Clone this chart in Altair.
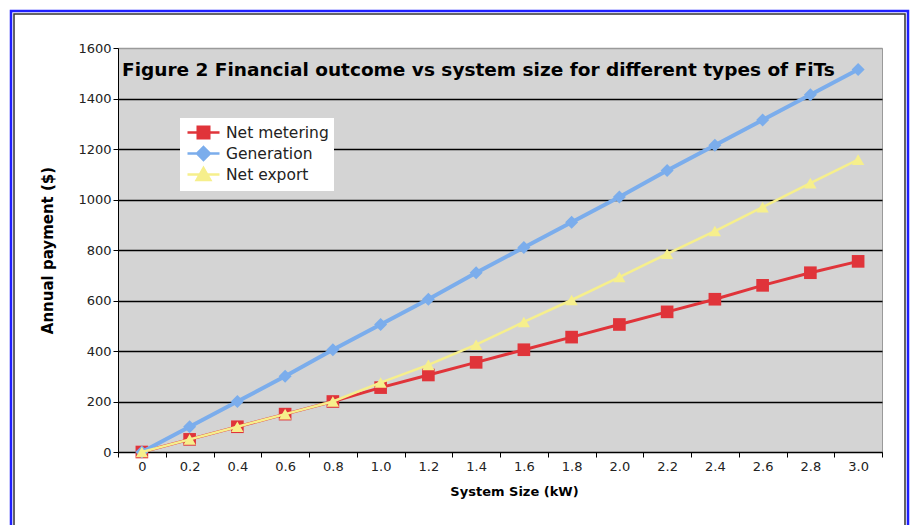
import altair as alt
import pandas as pd

sizes = ["0", "0.2", "0.4", "0.6", "0.8", "1.0", "1.2", "1.4", "1.6", "1.8",
         "2.0", "2.2", "2.4", "2.6", "2.8", "3.0"]
series_names = ["Net metering", "Generation", "Net export"]
net_metering = [0, 50, 100, 150, 200, 255, 305, 355, 405, 455, 505, 555, 605, 660, 710, 755]
generation = [0, 100, 200, 300, 405, 505, 605, 710, 810, 910, 1010, 1115, 1215, 1315, 1415, 1515]
net_export = [0, 50, 100, 150, 200, 275, 345, 425, 515, 602, 693, 785, 875, 970, 1065, 1158]
y_ticks = [0, 200, 400, 600, 800, 1000, 1200, 1400, 1600]
title_text = "Figure 2 Financial outcome vs system size for different types of FiTs"

colors = ["#e0343a", "#7badec", "#f6ef8c"]
shapes = ["square", "diamond", "triangle-up"]
widths = [3, 4, 2.5]
marker_sizes = [160, 170, 150]
legend_paths = [
    "M-2,0H2M-0.72,-0.72H0.72V0.72H-0.72Z",
    "M-2,0H2M0,-0.8L0.8,0L0,0.8L-0.8,0Z",
    "M-2,0H2M0,-0.8L0.85,0.7H-0.85Z",
]

rows = []
for name, vals in zip(series_names, [net_metering, generation, net_export]):
    for s, v in zip(sizes, vals):
        rows.append({"size": s, "series": name, "value": v})
df = pd.DataFrame(rows)

x_enc = alt.X(
    "size:N", sort=sizes, bandPosition=0.5,
    scale=alt.Scale(type="band", domain=sizes, paddingInner=0, paddingOuter=0),
    axis=alt.Axis(title="System Size (kW)", labelAngle=0, tickBand="extent",
                  domainColor="black", tickColor="black", tickSize=5,
                  labelPadding=3, titlePadding=12, grid=False, titleX=396),
)
y_enc = alt.Y(
    "value:Q", scale=alt.Scale(domain=[0, 1600], nice=False),
    axis=alt.Axis(title="Annual payment ($)", values=y_ticks, format="d", grid=True,
                  gridColor={"condition": {"test": "datum.value === 1600", "value": "#9a9a9a"},
                             "value": "black"},
                  gridWidth=1.5, domainColor="black", tickColor="black", tickSize=5,
                  labelPadding=2, titlePadding=22, titleFontSize=15),
)

base = alt.Chart(df)

layers = []
for name, col, shp, w, ms in zip(series_names, colors, shapes, widths, marker_sizes):
    sub = base.transform_filter(alt.datum.series == name)
    layers.append(sub.mark_line(strokeWidth=w, color=col).encode(x=x_enc, y=y_enc))
    layers.append(sub.mark_point(filled=True, opacity=1, shape=shp, size=ms, color=col).encode(
        x=x_enc, y=y_enc))

legend = alt.Legend(
    title=None, orient="none", legendX=62, legendY=70,
    fillColor="white", padding=5, symbolSize=256, symbolOffset=9,
    labelOffset=13, rowPadding=-3, labelFont="DejaVu Sans", labelFontSize=15.5,
    labelColor="#222222", symbolStrokeWidth=2.5, symbolOpacity=1,
)
legend_layer = base.mark_point(filled=True, opacity=0).encode(
    x=x_enc, y=y_enc,
    fill=alt.Fill("series:N", scale=alt.Scale(domain=series_names, range=colors), legend=legend),
    stroke=alt.Stroke("series:N", scale=alt.Scale(domain=series_names, range=colors), legend=legend),
    shape=alt.Shape("series:N", scale=alt.Scale(domain=series_names, range=legend_paths), legend=legend),
)

title_layer = alt.Chart(pd.DataFrame({"t": [title_text]})).mark_text(
    align="left", baseline="alphabetic", font="DejaVu Sans", fontSize=18.5,
    fontWeight="bold", color="black"
).encode(text="t:N", x=alt.value(4), y=alt.value(28))

frame_blue = alt.Chart(pd.DataFrame({"a": [0]})).mark_rect(
    fillOpacity=0, stroke="#1f1fff", strokeWidth=2.5
).encode(x=alt.value(11 - 118), x2=alt.value(908 - 118),
         y=alt.value(11 - 48), y2=alt.value(560 - 48))
frame_black = alt.Chart(pd.DataFrame({"a": [0]})).mark_rect(
    fillOpacity=0, stroke="#333333", strokeWidth=1.5
).encode(x=alt.value(14 - 118), x2=alt.value(905 - 118),
         y=alt.value(14 - 48), y2=alt.value(560 - 48))

chart = alt.layer(*layers, legend_layer, title_layer, frame_blue, frame_black).properties(
    width=764, height=404,
    autosize=alt.AutoSizeParams(type="none"),
    padding={"left": 118, "top": 48, "right": 30, "bottom": 73},
    background="white",
).configure_view(
    fill="#d4d4d4", stroke="#9a9a9a", strokeWidth=1
).configure_axis(
    labelFont="DejaVu Sans", labelFontSize=13, labelColor="#222222",
    titleFont="DejaVu Sans", titleFontSize=13, titleFontWeight="bold", titleColor="black",
)

chart.save("out.html", embed_options={"renderer": "svg", "actions": False})
